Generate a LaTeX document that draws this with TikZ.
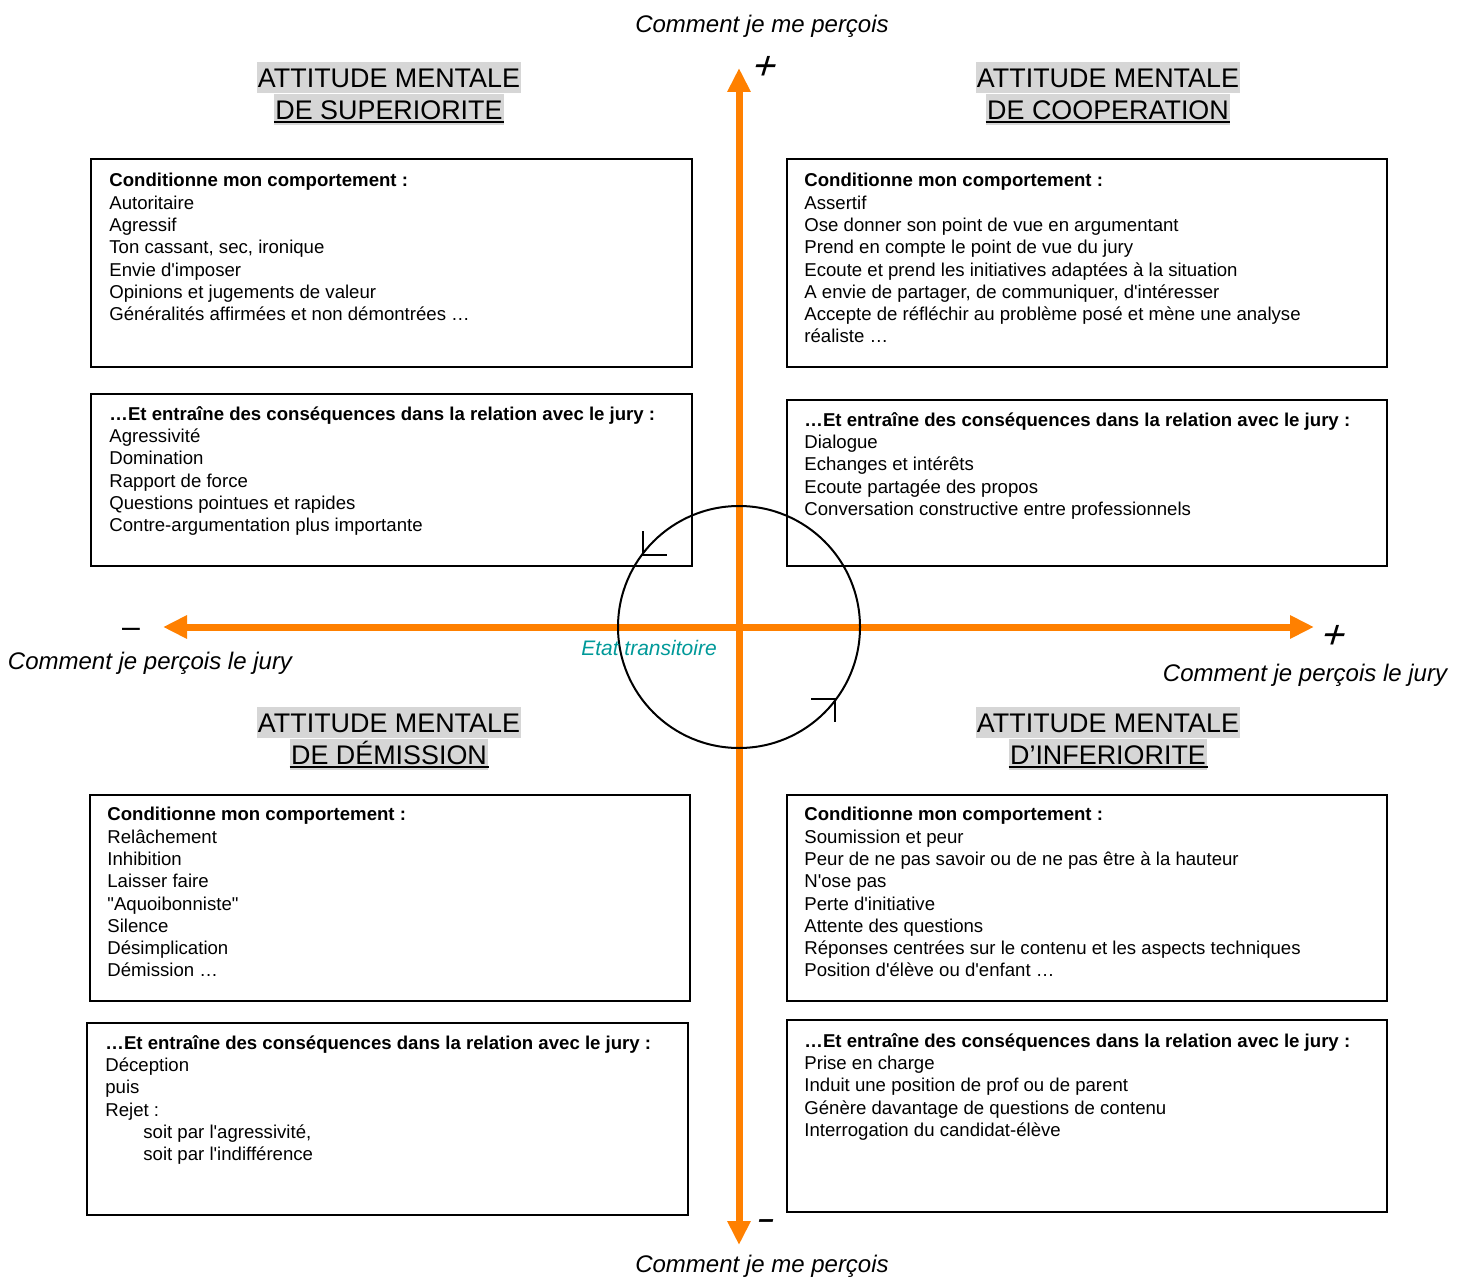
\documentclass[tikz,border=0pt]{standalone}
\usepackage{fontspec}
\setmainfont{Liberation Sans}[Ligatures=TeXOff]
\usetikzlibrary{arrows.meta}
\definecolor{axisorange}{RGB}{255,128,0}
\definecolor{titlegray}{RGB}{214,214,214}
\definecolor{teal2}{RGB}{0,153,153}
\tikzset{
  boxframe/.style={draw=black,line width=1pt},
  boxtext/.style={anchor=north west,inner sep=0pt,align=left,font=\fontsize{9.3}{11.15}\selectfont},
  titleline/.style={fill=titlegray,inner xsep=0.6pt,inner ysep=0pt,text height=9.6pt,text depth=0pt,minimum height=15.5pt,font=\fontsize{13.45}{16}\selectfont},
  axislabel/.style={inner sep=0pt,font=\fontsize{12}{14}\selectfont\itshape},
  signlabel/.style={inner sep=0pt,xslant=0.3,transform shape,font=\fontsize{20}{22}\selectfont},
  axisline/.style={draw=axisorange,line width=3.5pt,-{Triangle[length=12pt,width=11pt]}},
  cyclemark/.style={draw=black,line width=1pt},
}
\begin{document}
\begin{tikzpicture}[x=0.5pt,y=-0.5pt]
\useasboundingbox (0,0) rectangle (1466,1278);
% axes
\coordinate (c) at (739,627);
\coordinate (top) at (739,68);
\coordinate (bot) at (739,1245);
\coordinate (lft) at (163,627);
\coordinate (rgt) at (1314,627);
\draw[axisline] (c) -- (top);
\draw[axisline] (c) -- (bot);
\draw[axisline] (c) -- (lft);
\draw[axisline] (c) -- (rgt);
% boxes
\draw[boxframe] (91,159) rectangle (692,367);
\draw[boxframe] (91,394) rectangle (692,566);
\draw[boxframe] (787,159) rectangle (1387,367);
\draw[boxframe] (787,400) rectangle (1387,566);
\draw[boxframe] (90,795) rectangle (690,1001);
\draw[boxframe] (87,1023) rectangle (688,1215);
\draw[boxframe] (787,795) rectangle (1387,1001);
\draw[boxframe] (787,1020) rectangle (1387,1212);
% circle
\draw[line width=1pt] (c) circle[radius=121];
\coordinate (m1a) at (643,531);
\coordinate (m1b) at (643,555);
\coordinate (m1c) at (667,555);
\draw[cyclemark] (m1a) -- (m1b) -- (m1c);
\coordinate (m2a) at (811,699);
\coordinate (m2b) at (835,699);
\coordinate (m2c) at (835,722);
\draw[cyclemark] (m2a) -- (m2b) -- (m2c);
% titles
\node[titleline] (tl1) at (389,77.5) {ATTITUDE MENTALE};
\node[titleline] (tl2) at (389,109.5) {DE SUPERIORITE};
\node[titleline] (tr1) at (1108,77.5) {ATTITUDE MENTALE};
\node[titleline] (tr2) at (1108,109.5) {DE COOPERATION};
\node[titleline] (bl1) at (389,722.5) {ATTITUDE MENTALE};
\node[titleline] (bl2) at (389,754.5) {DE DÉMISSION};
\node[titleline] (br1) at (1108,722.5) {ATTITUDE MENTALE};
\node[titleline] (br2) at (1108,754.5) {D’INFERIORITE};
\foreach \n in {tl2,tr2,bl2,br2}{
  \draw[line width=1pt] ([yshift=1.6pt]\n.south west) -- ([yshift=1.6pt]\n.south east);
}
% box texts
\node[boxtext] (ttl1) at (109,173) {\textbf{Conditionne mon comportement :}\\Autoritaire\\Agressif\\Ton cassant, sec, ironique\\Envie d'imposer\\Opinions et jugements de valeur\\Généralités affirmées et non démontrées …};
\node[boxtext] (ttl2) at (109,406) {\textbf{…Et entraîne des conséquences dans la relation avec le jury :}\\Agressivité\\Domination\\Rapport de force\\Questions pointues et rapides\\Contre-argumentation plus importante};
\node[boxtext] (ttr1) at (804,173) {\textbf{Conditionne mon comportement :}\\Assertif\\Ose donner son point de vue en argumentant\\Prend en compte le point de vue du jury\\Ecoute et prend les initiatives adaptées à la situation\\A envie de partager, de communiquer, d'intéresser\\Accepte de réfléchir au problème posé et mène une analyse\\réaliste …};
\node[boxtext] (ttr2) at (804,412) {\textbf{…Et entraîne des conséquences dans la relation avec le jury :}\\Dialogue\\Echanges et intérêts\\Ecoute partagée des propos\\Conversation constructive entre professionnels};
\node[boxtext] (tbl1) at (107,807) {\textbf{Conditionne mon comportement :}\\Relâchement\\Inhibition\\Laisser faire\\"Aquoibonniste"\\Silence\\Désimplication\\Démission …};
\node[boxtext] (tbl2) at (105,1035) {\textbf{…Et entraîne des conséquences dans la relation avec le jury :}\\Déception\\puis\\Rejet :\\\hspace*{19pt}soit par l'agressivité,\\\hspace*{19pt}soit par l'indifférence};
\node[boxtext] (tbr1) at (804,807) {\textbf{Conditionne mon comportement :}\\Soumission et peur\\Peur de ne pas savoir ou de ne pas être à la hauteur\\N'ose pas\\Perte d'initiative\\Attente des questions\\Réponses centrées sur le contenu et les aspects techniques\\Position d'élève ou d'enfant …};
\node[boxtext] (tbr2) at (804,1033) {\textbf{…Et entraîne des conséquences dans la relation avec le jury :}\\Prise en charge\\Induit une position de prof ou de parent\\Génère davantage de questions de contenu\\Interrogation du candidat-élève};
% axis labels
\node[axislabel] (ytop) at (762,26) {Comment je me perçois};
\node[axislabel] (ybot) at (762,1266) {Comment je me perçois};
\node[axislabel] (xl) at (150,663) {Comment je perçois le jury};
\node[axislabel] (xr) at (1305,675) {Comment je perçois le jury};
\node[signlabel,text height=10pt,text depth=0pt] (ptop) at (765,70) {+};
\node[signlabel,text height=10pt,text depth=0pt] (prgt) at (1334,638.5) {+};
\node[inner sep=0pt,font=\fontsize{16}{18}\selectfont,text height=5pt,text depth=0pt] (mlft) at (131,632) {–};
\node[inner sep=0pt,xslant=0.2,transform shape,font=\fontsize{14}{16}\selectfont\bfseries,text height=4.6pt,text depth=0pt] (mbot) at (765.5,1224) {–};
\node[inner sep=0pt,text=teal2,font=\fontsize{10.5}{12}\selectfont\itshape] (etat) at (649,648) {Etat transitoire};
\end{tikzpicture}
\end{document}
